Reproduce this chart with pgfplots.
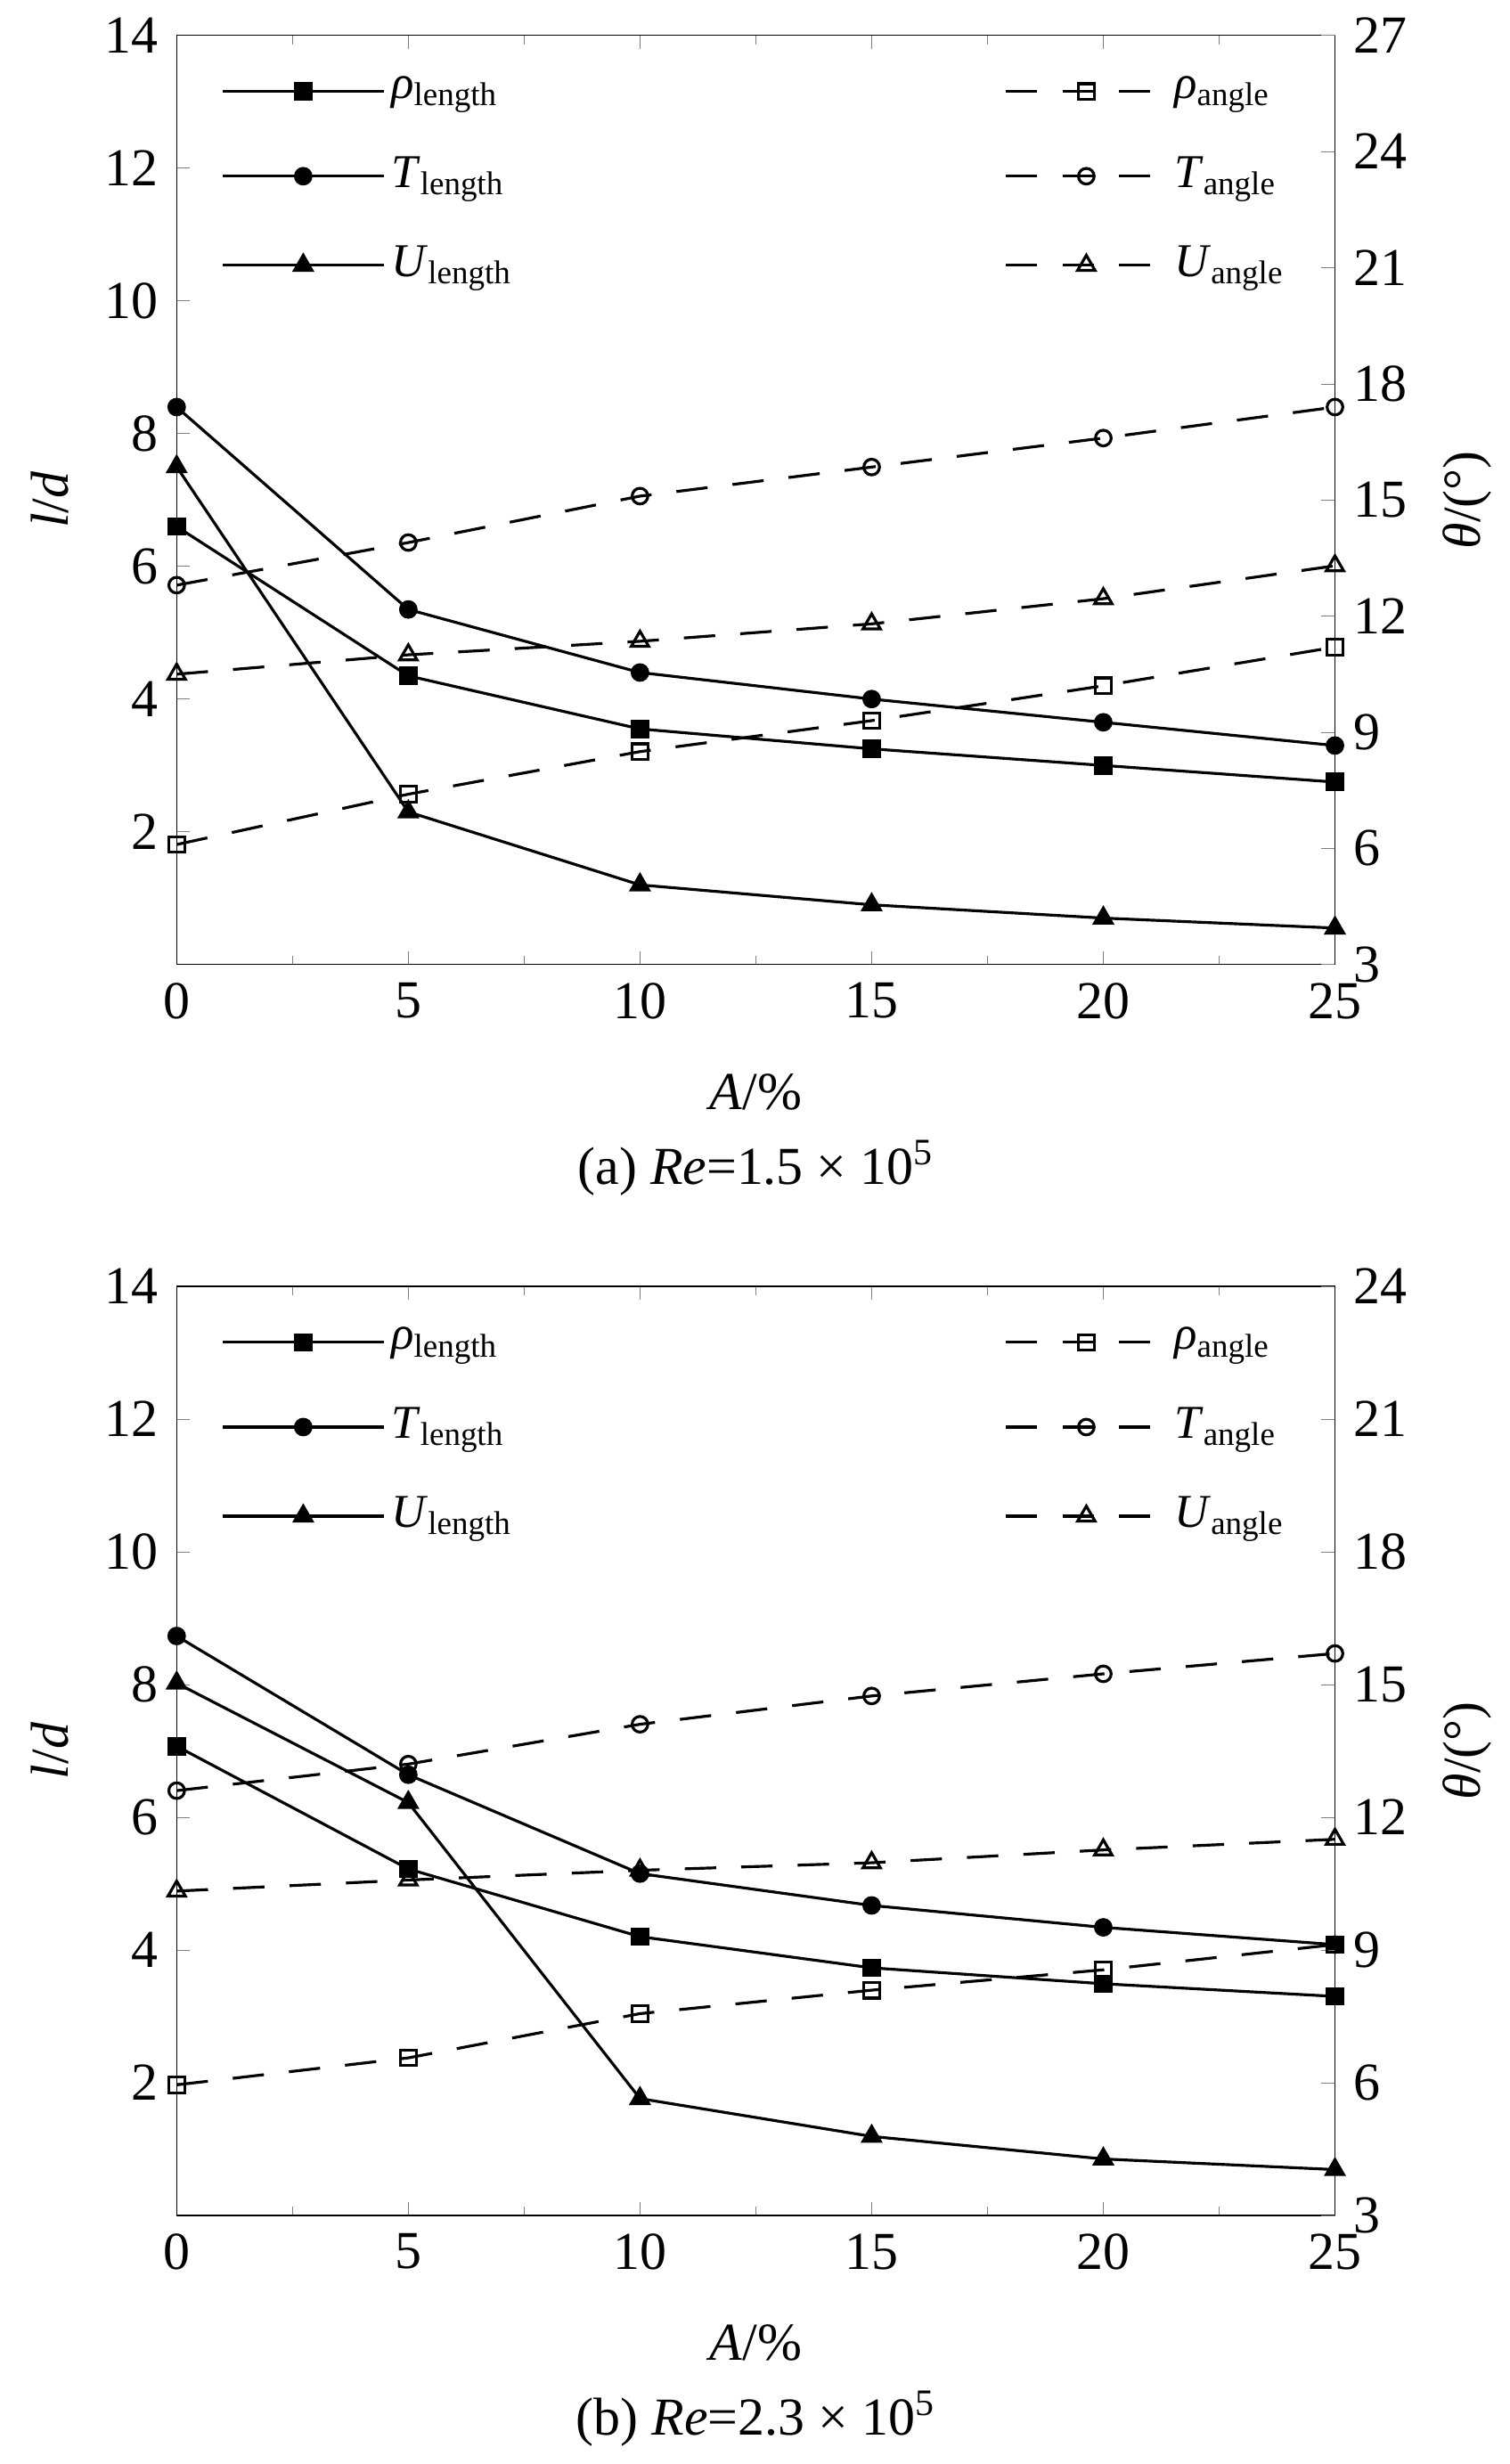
\documentclass[border=0pt]{standalone}
\usepackage{pgfplots}
\pgfplotsset{compat=1.18}
\usepackage{fontspec}
\setmainfont{Liberation Serif}
\begin{document}
\fontsize{17}{20}\selectfont
\pgfplotsset{
 base/.style={width=369pt,height=296pt,scale only axis,xmin=0,xmax=25,xtick={0,5,...,25},
   minor x tick num=1,tick align=inside,/pgf/number format/assume math mode=true,
   tick label style={font=\fontsize{17}{20}\selectfont},label style={font=\fontsize{17}{20}\selectfont},
   legend style={draw=none,fill=none,font=\fontsize{15}{18}\selectfont,row sep=12pt},
   legend cell align=left,
   legend image code/.code={\draw[mark repeat=2,mark phase=2,##1] plot coordinates {(0cm,0cm)(0.9cm,0cm)(1.8cm,0cm)};}},
 L/.style={base,ymin=0,ymax=14,ytick={2,4,...,14},axis y line*=left,ylabel={\textit{l}/\textit{d}},
   xlabel={\textit{A}/\%},xlabel style={yshift=-6pt},legend pos=north west},
 R/.style={base,axis y line*=right,axis x line=none,ylabel={\textit{θ}/(°)},legend pos=north east},
 sol/.style={black,line width=0.9pt,mark size=2.5pt},
 das/.style={black,line width=0.9pt,mark size=2.5pt,dash pattern=on 10pt off 8pt,mark options={solid,fill=white}},
}
\begin{tikzpicture}
\begin{axis}[L,name=a1]
\addplot[sol,mark=square*] coordinates {(0,6.6)(5,4.35)(10,3.55)(15,3.25)(20,3.0)(25,2.75)};
\addlegendentry{\textit{ρ}\textsubscript{length}}
\addplot[sol,mark=*] coordinates {(0,8.4)(5,5.35)(10,4.4)(15,4.0)(20,3.65)(25,3.3)};
\addlegendentry{\textit{T}\textsubscript{length}}
\addplot[sol,mark=triangle*,mark size=3.2pt] coordinates {(0,7.5)(5,2.3)(10,1.2)(15,0.9)(20,0.7)(25,0.55)};
\addlegendentry{\textit{U}\textsubscript{length}}
\end{axis}
\begin{axis}[R,ymin=3,ymax=27,ytick={3,6,...,27}]
\addplot[das,mark=square] coordinates {(0,6.1)(5,7.4)(10,8.5)(15,9.3)(20,10.2)(25,11.2)};
\addlegendentry{\textit{ρ}\textsubscript{angle}}
\addplot[das,mark=o] coordinates {(0,12.8)(5,13.9)(10,15.1)(15,15.85)(20,16.6)(25,17.4)};
\addlegendentry{\textit{T}\textsubscript{angle}}
\addplot[das,mark=triangle,mark size=3.2pt] coordinates {(0,10.5)(5,11.0)(10,11.35)(15,11.8)(20,12.45)(25,13.3)};
\addlegendentry{\textit{U}\textsubscript{angle}}
\end{axis}
\node[below=50pt] at (a1.south) {(a) \textit{Re}=1.5 × 10\textsuperscript{5}};
\begin{scope}[yshift=-398.5pt]
\begin{axis}[L,name=b1]
\addplot[sol,mark=square*] coordinates {(0,7.07)(5,5.22)(10,4.2)(15,3.73)(20,3.49)(25,3.3)};
\addlegendentry{\textit{ρ}\textsubscript{length}}
\addplot[sol,mark=*] coordinates {(0,8.73)(5,6.64)(10,5.15)(15,4.67)(20,4.34)(25,4.08)};
\addlegendentry{\textit{T}\textsubscript{length}}
\addplot[sol,mark=triangle*,mark size=3.2pt] coordinates {(0,8.02)(5,6.22)(10,1.76)(15,1.19)(20,0.85)(25,0.69)};
\addlegendentry{\textit{U}\textsubscript{length}}
\end{axis}
\begin{axis}[R,ymin=3,ymax=24,ytick={3,6,...,24}]
\addplot[das,mark=square] coordinates {(0,5.95)(5,6.56)(10,7.56)(15,8.09)(20,8.55)(25,9.12)};
\addlegendentry{\textit{ρ}\textsubscript{angle}}
\addplot[das,mark=o] coordinates {(0,12.6)(5,13.2)(10,14.1)(15,14.74)(20,15.24)(25,15.7)};
\addlegendentry{\textit{T}\textsubscript{angle}}
\addplot[das,mark=triangle,mark size=3.2pt] coordinates {(0,10.33)(5,10.58)(10,10.8)(15,10.97)(20,11.26)(25,11.5)};
\addlegendentry{\textit{U}\textsubscript{angle}}
\end{axis}
\node[below=50pt] at (b1.south) {(b) \textit{Re}=2.3 × 10\textsuperscript{5}};
\end{scope}
\end{tikzpicture}
\end{document}
